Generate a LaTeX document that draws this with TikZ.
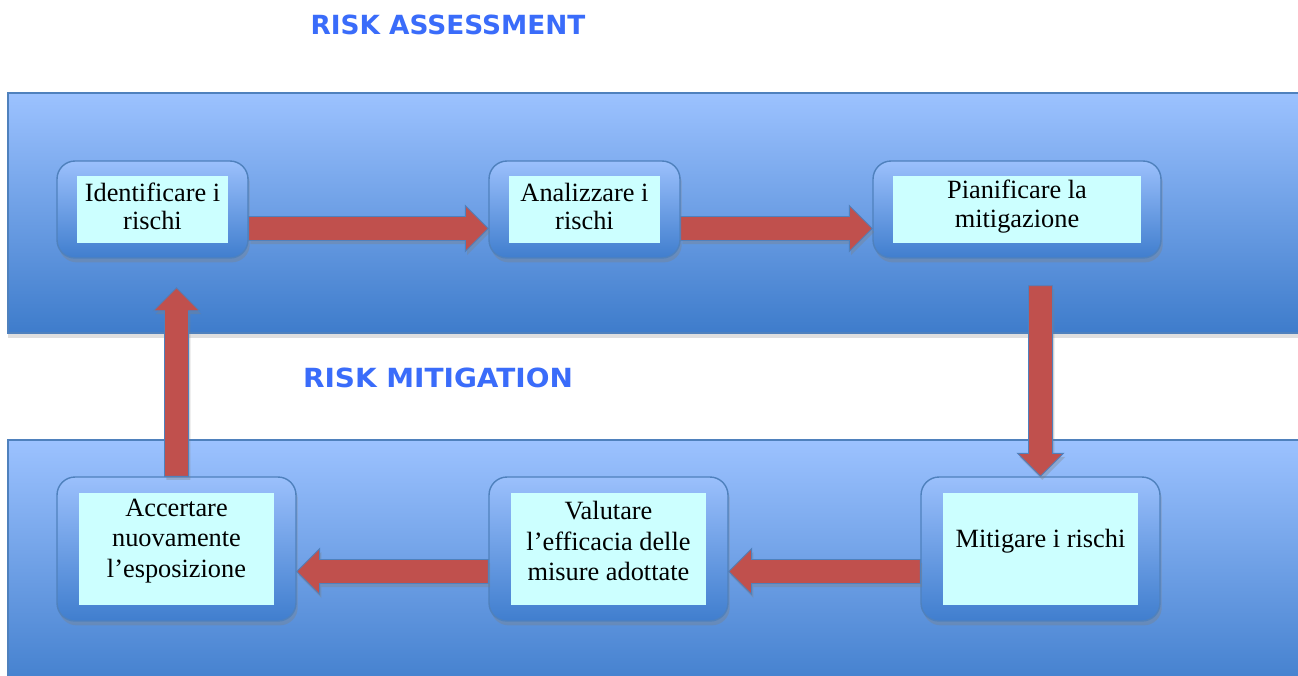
\documentclass[tikz,border=0pt]{standalone}
\usepackage{fontspec}
\setmainfont{Liberation Serif}
\newfontfamily\titlefont{DejaVu Sans}
\usetikzlibrary{calc,shadows}
\definecolor{bandtop}{RGB}{156,194,255}
\definecolor{bandbot}{RGB}{62,124,203}
\definecolor{boxtop}{RGB}{155,192,252}
\definecolor{boxbot}{RGB}{64,126,206}
\definecolor{edgeblue}{RGB}{79,129,189}
\definecolor{cyanbox}{RGB}{204,255,255}
\definecolor{arrowred}{RGB}{192,80,77}
\definecolor{titleblue}{RGB}{58,108,250}
\tikzset{
  band/.style={draw=edgeblue, line width=0.6pt, top color=bandtop, bottom color=bandbot,
    drop shadow={shadow xshift=0pt, shadow yshift=-3pt, opacity=0.25}},
  outerbox/.style={draw=edgeblue, line width=0.8pt, rounded corners=0.36cm,
    top color=boxtop, bottom color=boxbot, inner sep=0pt,
    drop shadow={shadow xshift=1pt, shadow yshift=-2.5pt, opacity=0.35}},
  innerbox/.style={fill=cyanbox, inner sep=0pt},
  boxtext/.style={font=\fontsize{15}{16.2}\selectfont, align=center, text=black, inner sep=0pt},
  boxtextb/.style={font=\fontsize{15}{17.3}\selectfont, align=center, text=black, inner sep=0pt},
  titletext/.style={font=\titlefont\bfseries\fontsize{15}{18}\selectfont, text=titleblue, inner sep=0pt},
  blockarrow/.style={draw=edgeblue, line width=0.5pt, fill=arrowred,
    drop shadow={shadow xshift=1pt, shadow yshift=-2pt, opacity=0.35}}
}
% horizontal block arrow: #1 start, #2 tip, #3 signed head length (back from tip)
\newcommand\blkarrowH[3]{%
  \draw[blockarrow] ($(#1)+(0,-12)$) -- ($(#2)+(#3,-12)$) -- ($(#2)+(#3,-23)$) -- (#2)
    -- ($(#2)+(#3,23)$) -- ($(#2)+(#3,12)$) -- ($(#1)+(0,12)$) -- cycle;}
% vertical block arrow
\newcommand\blkarrowV[3]{%
  \draw[blockarrow] ($(#1)+(-12,0)$) -- ($(#2)+(-12,#3)$) -- ($(#2)+(-23,#3)$) -- (#2)
    -- ($(#2)+(23,#3)$) -- ($(#2)+(12,#3)$) -- ($(#1)+(12,0)$) -- cycle;}
\begin{document}
\begin{tikzpicture}[x=0.02cm, y=-0.02cm]
\useasboundingbox (0,0) rectangle (1298,676);
\fill[white] (0,0) rectangle (1298,676);

% bands
\path[band] (8,93) rectangle (1310,333);
\path[band] (8,440) rectangle (1310,700);

% titles
\node[titletext] (title1) at (448,25) {RISK ASSESSMENT};
\node[titletext, xscale=1.06] (title2) at (438,378) {RISK MITIGATION};

% top row
\node[outerbox, minimum width=3.82cm, minimum height=1.94cm] (n1) at (152.5,209.5) {};
\node[innerbox, minimum width=3.04cm, minimum height=1.36cm] (i1) at (n1.center) {};
\node[boxtext] (t1) at ($(i1.center)+(0,-3)$) {Identificare i\\rischi};

\node[outerbox, minimum width=3.82cm, minimum height=1.94cm] (n2) at (584.5,209.5) {};
\node[innerbox, minimum width=3.04cm, minimum height=1.36cm] (i2) at (n2.center) {};
\node[boxtext] (t2) at ($(i2.center)+(0,-3)$) {Analizzare i\\rischi};

\node[outerbox, minimum width=5.76cm, minimum height=1.94cm] (n3) at (1017,209.5) {};
\node[innerbox, minimum width=4.96cm, minimum height=1.36cm] (i3) at (n3.center) {};
\node[boxtext] (t3) at ($(i3.center)+(0,-3)$) {Pianificare la\\mitigazione};

% bottom row
\node[outerbox, minimum width=4.78cm, minimum height=2.88cm] (n4) at (1040.5,549) {};
\node[innerbox, minimum width=3.9cm, minimum height=2.24cm] (i4) at (n4.center) {};
\node[boxtextb] (t4) at ($(i4.center)+(0,-8)$) {Mitigare i rischi};

\node[outerbox, minimum width=4.78cm, minimum height=2.88cm] (n5) at (608.5,549) {};
\node[innerbox, minimum width=3.9cm, minimum height=2.24cm] (i5) at (n5.center) {};
\node[boxtextb] (t5) at ($(i5.center)+(0,-8)$) {Valutare\\l’efficacia delle\\misure adottate};

\node[outerbox, minimum width=4.78cm, minimum height=2.88cm] (n6) at (176.5,549) {};
\node[innerbox, minimum width=3.92cm, minimum height=2.24cm] (i6) at (n6.center) {};
\node[boxtextb] (t6) at ($(i6.center)+(0,-8)$) {Accertare\\nuovamente\\l’esposizione};

% connector end points
\coordinate (a1s) at ($(n1.east)+(0,19)$);
\coordinate (a1e) at ($(n2.west)+(0,19)$);
\coordinate (a2s) at ($(n2.east)+(0,19)$);
\coordinate (a2e) at ($(n3.west)+(0,19)$);
\coordinate (c3) at ($(n3.south)+(0,27)$);
\coordinate (a3s) at (n4.north |- c3);
\coordinate (a3e) at (n4.north);
\coordinate (a4s) at ($(n4.west)+(0,22.5)$);
\coordinate (a4e) at ($(n5.east)+(0,22.5)$);
\coordinate (a5s) at ($(n5.west)+(0,22.5)$);
\coordinate (a5e) at ($(n6.east)+(0,22.5)$);
\coordinate (a6s) at (n6.north);
\coordinate (c6) at ($(n1.south)+(0,29)$);
\coordinate (a6e) at (n6.north |- c6);

% connectors
\blkarrowH{a1s}{a1e}{-23}
\blkarrowH{a2s}{a2e}{-23}
\blkarrowV{a3s}{a3e}{-23}
\blkarrowH{a4s}{a4e}{23}
\blkarrowH{a5s}{a5e}{23}
\blkarrowV{a6s}{a6e}{23}
\end{tikzpicture}
\end{document}
